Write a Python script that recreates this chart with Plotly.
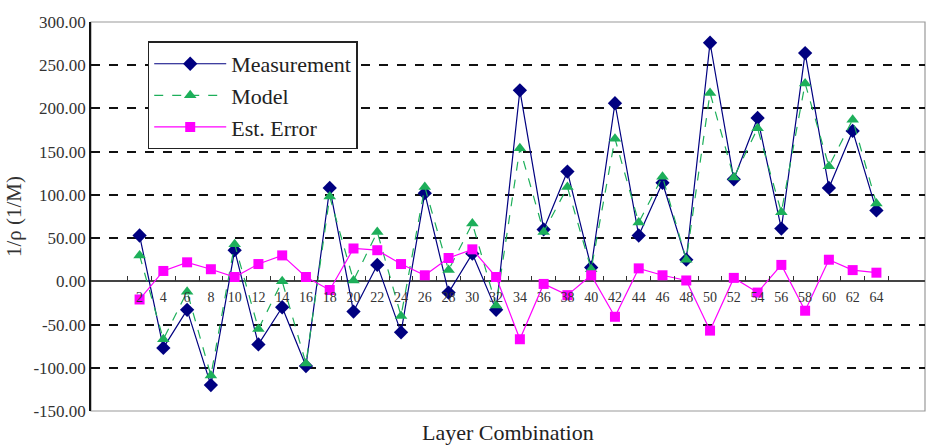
import plotly.graph_objects as go

categories = [str(v) for v in range(2, 66, 2)]
measurement = [53, -77, -33, -120, 36, -73, -30, -98, 108, -35,
               19, -59, 102, -13, 32, -33, 221, 60, 127, 16, 206,
               53, 114, 25, 276, 118, 189, 61, 264, 108, 174, 82]
model = [30, -67, -12, -109, 43, -55, 0, -95, 98, 1,
         57, -40, 109, 13, 67, -28, 154, 57, 109, 14, 165,
         68, 121, 25, 218, 120, 177, 80, 229, 133, 187, 90]
est_error = [-21, 12, 22, 14, 5, 20, 30, 5, -10, 38,
             36, 20, 7, 27, 37, 5, -67, -3, -16, 7, -41,
             15, 7, 1, -57, 4, -13, 19, -34, 25, 13, 10]
y_ticks = list(range(-150, 301, 50))
y_tick_text = ["%.2f" % v for v in y_ticks]

FONT = "Liberation Serif"

fig = go.Figure()
fig.add_trace(go.Scatter(x=categories, y=measurement, name="Measurement", mode="lines+markers",
                         line=dict(color="#000080", width=1.2),
                         marker=dict(symbol="diamond", size=11, color="#000080")))
fig.add_trace(go.Scatter(x=categories, y=model, name="Model", mode="lines+markers",
                         line=dict(color="#1DAF5A", width=1.2, dash="dash"),
                         marker=dict(symbol="triangle-up", size=11, color="#1DAF5A")))
fig.add_trace(go.Scatter(x=categories, y=est_error, name="Est. Error", mode="lines+markers",
                         line=dict(color="#FF00FF", width=1.2),
                         marker=dict(symbol="square", size=10, color="#FF00FF")))

fig.update_layout(
    width=942, height=447,
    margin=dict(l=91, r=17, t=22, b=36),
    plot_bgcolor="white", paper_bgcolor="white",
    font=dict(family=FONT, color="#222"),
    showlegend=True,
    legend=dict(x=0.068, y=0.95, xanchor="left", yanchor="top",
                bordercolor="#222", borderwidth=1.5, bgcolor="white",
                font=dict(size=22, family=FONT), tracegroupgap=0,
                itemwidth=72),
    xaxis=dict(type="category", anchor="free", position=150/450,
               showline=False, showgrid=False, zeroline=False,
               ticks="inside", ticklen=5, tickcolor="#333", tickson="boundaries",
               ticklabelstandoff=6, tickangle=0,
               tickfont=dict(size=14, family=FONT, color="#333")),
    yaxis=dict(range=[-150, 300], tickvals=y_ticks, ticktext=y_tick_text,
               showline=True, linecolor="#111", linewidth=1.5,
               showgrid=True, gridcolor="#111", griddash="dash", gridwidth=1.5,
               zeroline=True, zerolinecolor="#444", zerolinewidth=2,
               ticks="", tickfont=dict(size=17, family=FONT, color="#333"),
               title=dict(text="1/ρ (1/M)", font=dict(size=21, family=FONT, color="#333"),
                          standoff=6)),
    shapes=[dict(type="rect", xref="paper", yref="paper", x0=0, x1=1, y0=0, y1=1,
                 line=dict(color="#999", width=1.2), layer="below")],
    annotations=[dict(text="Layer Combination", xref="paper", yref="paper",
                      x=0.5, y=-0.055, xanchor="center", yanchor="middle",
                      showarrow=False, font=dict(size=22, family=FONT, color="#222"))],
)

fig.write_html("out.html")
